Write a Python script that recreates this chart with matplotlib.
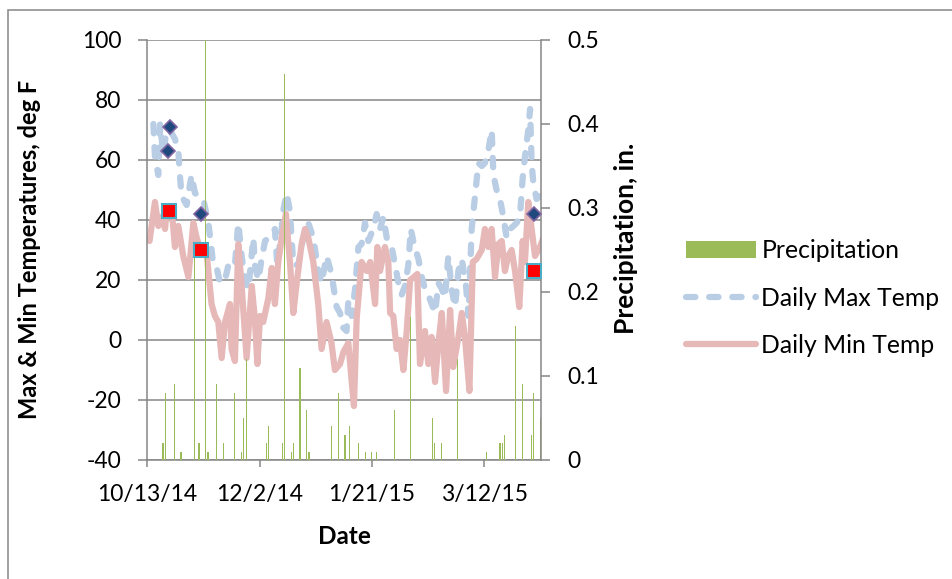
import matplotlib
matplotlib.use("Agg")
import matplotlib.pyplot as plt
import matplotlib.dates as mdates
from matplotlib.patches import Rectangle
import pandas as pd

plt.rcParams['font.family'] = ['Lato', 'DejaVu Sans']
plt.rcParams['axes.unicode_minus'] = False

start = pd.Timestamp('2014-10-13')

# daily max temp (day offset from 10/13/14, deg F)
max_day = [2.7, 3.4, 4.9, 5.7, 7.1, 8.6, 10.8, 12.3, 13.8, 14.6, 15.3, 17.5, 19.7, 21.2,
           22.7, 24.9, 27.2, 29.4, 30.9, 32.4, 34.6, 36.1, 37.6, 39.0, 40.5, 42.0, 43.5,
           45.0, 47.2, 47.9, 49.4, 50.9, 52.4, 53.9, 55.4, 56.8, 57.9, 59.8, 60.5, 62.0,
           63.5, 65.0, 67.2, 69.4, 71.7, 73.9, 76.1, 77.6, 79.8, 82.0, 84.3, 85.8, 87.3,
           88.7, 89.5, 91.0, 92.5, 94.0, 95.4, 96.9, 98.4, 100.6, 102.1, 103.6, 105.1,
           106.6, 108.8, 110.3, 111.8, 113.2, 114.7, 116.2, 117.3, 118.7, 120.7, 122.2,
           123.6, 125.1, 126.6, 128.1, 129.6, 131.1, 132.5, 134.0, 135.5, 137.0, 138.5,
           140.0, 141.9, 143.0, 144.4, 145.9, 147.4, 148.9, 150.3, 151.8, 153.3, 154.1,
           155.5, 157.0, 158.5, 160.0, 161.5, 163.0, 164.4, 165.9, 167.1, 168.1, 169.6,
           170.4, 171.1, 171.9, 173.3, 174.8, 176.3]
max_temp = [72, 61, 55, 72, 62, 70, 69, 67, 63, 54, 48, 45, 55, 49,
            48, 47, 39, 25, 24, 19, 20, 25, 24, 25, 39, 28, 20,
            17, 34, 25, 20, 27, 33, 34, 35, 37, 25, 37, 43, 49,
            43, 25, 25, 34, 39, 34, 23, 19, 28, 22, 11, 9, 4,
            3, 13, 8, 17, 31, 32, 39, 33, 37, 42, 37, 41,
            34, 31, 25, 19, 15, 18, 25, 37, 32, 27, 21,
            17, 15, 12, 9, 19, 17, 14, 28, 17, 11, 23,
            27, 18, 8, 37, 48, 59, 58, 59, 63, 70, 55,
            50, 47, 41, 34, 37, 38, 39, 41, 54, 61, 70,
            77, 59, 52, 47, 48, 51]

# daily min temp
min_day = [1.0, 3.4, 4.9, 6.4, 7.9, 8.6, 10.8, 12.3, 13.8, 16.0, 18.3, 20.5, 22.0, 24.2,
           26.4, 28.6, 30.1, 31.6, 33.1, 34.6, 36.8, 37.5, 39.0, 40.5, 42.0, 44.2, 46.5,
           47.9, 49.0, 50.2, 51.6, 53.9, 55.4, 56.8, 58.3, 59.8, 61.7, 63.5, 65.0, 66.5,
           68.7, 70.2, 71.7, 73.9, 76.1, 77.6, 79.8, 82.0, 83.5, 85.8, 87.3, 89.5, 91.0,
           92.0, 93.2, 95.4, 97.7, 99.2, 101.4, 102.4, 103.6, 105.8, 107.3, 108.1, 109.5,
           111.0, 112.5, 114.0, 115.5, 117.0, 118.7, 120.2, 121.4, 123.6, 125.1, 126.6,
           128.1, 129.6, 131.1, 133.0, 134.8, 136.2, 138.5, 140.0, 141.4, 143.4, 144.9,
           146.6, 148.9, 150.3, 151.8, 153.3, 154.8, 156.3, 157.8, 159.2, 160.7, 162.2,
           163.7, 165.6, 167.1, 168.1, 169.6, 171.1, 172.6, 174.8, 176.3]
min_temp = [33, 46, 38, 41, 37, 43, 44, 31, 38, 28, 21, 39, 34, 29,
            29, 12, 8, 6, -6, 6, 12, -3, -7, 32, 18, -6, 18,
            7, -8, 8, 6, 14, 24, 12, 26, 34, 42, 26, 9, 19,
            32, 37, 34, 26, 12, -3, 6, -1, -10, -8, -4, -1, -14,
            -22, 7, 26, 23, 26, 12, 31, 23, 31, 26, 9, 8,
            -3, 0, -10, 3, 20, 21, 22, -8, 3, -8, 1,
            -14, -1, 9, -17, 10, -9, 1, 9, 1, -17, 26,
            27, 30, 37, 31, 37, 21, 32, 33, 23, 28, 30,
            23, 11, 33, 26, 46, 37, 28, 31, 34]

# daily precipitation, inches
precip_day = [7, 8, 12, 15, 21, 23, 26, 27, 31, 34, 39, 42, 43, 44, 53, 54, 60, 61, 64, 65,
              68, 71, 72, 82, 85, 88, 90, 94, 97, 100, 102, 110, 117, 127, 128, 131, 138,
              151, 157, 158, 159, 164, 167, 171, 172, 175]
precip = [0.02, 0.08, 0.09, 0.01, 0.25, 0.02, 0.53, 0.01, 0.09, 0.02, 0.08, 0.01, 0.05, 0.12,
          0.02, 0.04, 0.02, 0.46, 0.01, 0.02, 0.11, 0.06, 0.01, 0.04, 0.08, 0.03, 0.04, 0.02,
          0.01, 0.01, 0.01, 0.06, 0.17, 0.05, 0.02, 0.02, 0.12, 0.01, 0.02, 0.02, 0.03, 0.16,
          0.09, 0.03, 0.08, 0.05]

# highlighted points
diamond_day = [10, 9, 24, 172]
diamond_temp = [71, 63, 42, 42]
square_day = [9.5, 24, 172]
square_temp = [43, 30, 23]

tick_dates = ['2014-10-13', '2014-12-02', '2015-01-21', '2015-03-12']


def to_dates(days):
    return start + pd.to_timedelta(days, unit='D')


grey = '#868686'
W, H = 953, 579
fig = plt.figure(figsize=(W / 100, H / 100), dpi=100)
fig.patches.append(Rectangle((8 / W, -0.1), 1.2, 1.1 - 10 / H, transform=fig.transFigure,
                             fill=False, edgecolor=grey, linewidth=1.1))

ax = fig.add_axes([147.3 / W, 1 - 460 / H, 394 / W, 420 / H])
ax2 = ax.twinx()
ax3 = ax.twinx()

l_max, = ax.plot(to_dates(max_day), max_temp, color='#b9cde5', lw=4.5,
                 linestyle=(0, (1.5, 2.2)), dash_capstyle='round', solid_capstyle='round')
l_min, = ax.plot(to_dates(min_day), min_temp, color='#e6b9b8', lw=4.5,
                 solid_capstyle='round', solid_joinstyle='round')

bars = ax2.bar(to_dates(precip_day), precip, width=0.5, color='#9bbb59', linewidth=0)

ax3.plot(to_dates(diamond_day), diamond_temp, 'D', ms=7, color='#1f497d',
         markeredgecolor='#8064a2', markeredgewidth=1.2, linestyle='none')
ax3.plot(to_dates(square_day), square_temp, 's', ms=10, color='#ff0000',
         markeredgecolor='#4bacc6', markeredgewidth=1.5, linestyle='none')

xmin = start
xmax = start + pd.Timedelta(days=175.4)
for a in (ax, ax2, ax3):
    a.set_xlim(xmin, xmax)
ax.set_ylim(-40, 100)
ax3.set_ylim(-40, 100)
ax2.set_ylim(0, 0.5)

ax.set_yticks(range(-40, 101, 20))
ax.yaxis.grid(True, color=grey, linewidth=1.1)
ax.set_axisbelow(True)
ax.set_xticks(pd.to_datetime(tick_dates))
ax.xaxis.set_major_formatter(plt.FuncFormatter(
    lambda v, p: (lambda d: f"{d.month}/{d.day}/{d:%y}")(mdates.num2date(v))))

ax2.set_yticks([0, 0.1, 0.2, 0.3, 0.4, 0.5])
ax2.set_yticklabels(['0', '0.1', '0.2', '0.3', '0.4', '0.5'])

for a in (ax, ax2):
    a.spines['top'].set_visible(False)
    for s in ('left', 'right', 'bottom'):
        a.spines[s].set_color(grey)
        a.spines[s].set_linewidth(1.1)
ax.spines['right'].set_visible(False)
ax2.spines['left'].set_visible(False)
ax2.spines['bottom'].set_visible(False)
for s in ax3.spines.values():
    s.set_visible(False)
ax3.set_yticks([])
ax3.tick_params(axis='x', which='both', bottom=False, labelbottom=False)

ax.tick_params(axis='y', direction='out', length=6.5, width=1.1, color=grey, pad=12,
               labelsize=16.5)
ax.tick_params(axis='x', direction='out', length=5, width=1.1, color=grey, pad=12,
               labelsize=16.5)
ax2.tick_params(axis='y', direction='out', length=6.5, width=1.1, color=grey, pad=12,
                labelsize=16.5)

fig.text(30 / W, 1 - 249 / H, 'Max & Min Temperatures, deg F', rotation=90, ha='center',
         va='center', fontsize=17, fontweight='bold')
fig.text(626 / W, 1 - 238 / H, 'Precipitation, in.', rotation=90, ha='center',
         va='center', fontsize=19, fontweight='bold')
fig.text(344 / W, 1 - 536 / H, 'Date', ha='center', va='center', fontsize=17.5,
         fontweight='bold')

fig.legend([bars, l_max, l_min], ['Precipitation', 'Daily Max Temp', 'Daily Min Temp'],
           loc='center left', bbox_to_anchor=(686 / W, 1 - 298 / H), frameon=False,
           fontsize=17.8, handlelength=2.85, handletextpad=0.2, labelspacing=0.99,
           borderpad=0, borderaxespad=0)

fig.savefig('out.png', dpi=100)
